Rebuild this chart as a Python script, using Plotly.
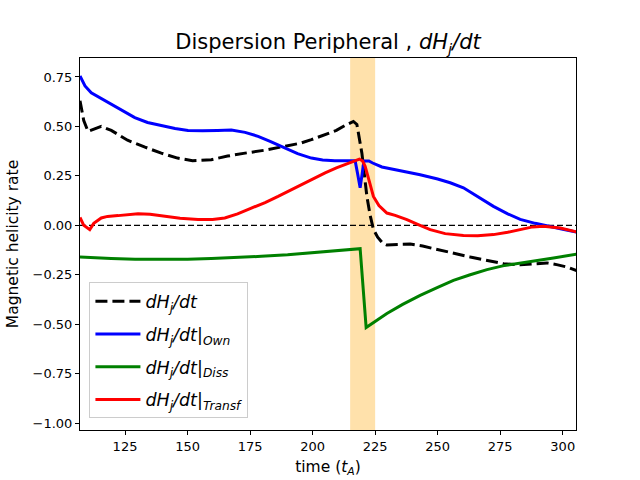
import plotly.graph_objects as go

# dH_j/dt (total)
t_total = [107, 108.5, 110.2, 113, 115.5, 119.5, 126, 133, 139.5, 146, 152, 159.5, 166, 173,
           181, 189, 195, 199.5, 205, 209.5, 213, 216.3, 217.7, 219.7, 221.7, 223, 224.3, 226,
           228, 229.7, 234, 239, 244, 249.7, 256, 263, 270, 276.3, 283, 288, 293.7, 298, 302, 305.7]
h_total = [0.63, 0.53, 0.475, 0.49, 0.5, 0.48, 0.43, 0.395, 0.365, 0.34, 0.327, 0.332, 0.35, 0.365,
           0.38, 0.4, 0.415, 0.433, 0.46, 0.48, 0.505, 0.525, 0.51, 0.365, 0.146, 0.05, -0.02, -0.06,
           -0.09, -0.1, -0.097, -0.095, -0.105, -0.123, -0.14, -0.16, -0.178, -0.194, -0.2, -0.197,
           -0.19, -0.2, -0.212, -0.23]

# dH_j/dt |Own
t_own = [107, 109, 111.5, 115, 119.5, 124, 128.9, 134, 139.5, 145, 150.2, 156, 162, 167.5, 173,
         178.2, 183, 188.9, 194, 199.5, 204, 208.9, 213, 217, 218, 219, 219.8, 220.5, 222.5, 224,
         227.7, 235, 243, 250, 255, 260.3, 266, 272.3, 278, 283, 289, 295, 300, 305.7]
h_own = [0.755, 0.705, 0.67, 0.645, 0.615, 0.58, 0.545, 0.52, 0.504, 0.49, 0.48, 0.478, 0.48, 0.482,
         0.47, 0.45, 0.425, 0.39, 0.362, 0.34, 0.33, 0.326, 0.325, 0.326, 0.26, 0.19, 0.26, 0.325,
         0.325, 0.315, 0.295, 0.278, 0.256, 0.234, 0.215, 0.19, 0.145, 0.096, 0.058, 0.03, 0.01,
         -0.008, -0.02, -0.035]

# dH_j/dt |Diss
t_diss = [107, 113, 119.5, 129, 139.5, 150, 159.5, 170, 179.5, 190, 199.5, 209.5, 219, 221.4,
          225, 229.7, 236, 243, 250, 256.3, 263, 269.7, 276, 283, 290, 296.3, 305.7]
h_diss = [-0.16, -0.165, -0.168, -0.172, -0.173, -0.171, -0.168, -0.163, -0.157, -0.149, -0.14,
          -0.13, -0.118, -0.517, -0.485, -0.446, -0.4, -0.354, -0.314, -0.278, -0.25, -0.224,
          -0.205, -0.19, -0.176, -0.165, -0.146]

# dH_j/dt |Transf
t_transf = [107, 108.5, 110.9, 112.5, 115.5, 118, 122.2, 126, 130.2, 135, 139.5, 147, 154.2, 160,
            164.9, 170, 175.5, 181, 186.2, 193, 199.5, 205, 209.5, 214, 218.7, 220, 221, 222.5,
            224.3, 226.5, 229.7, 233, 237.7, 242, 247, 253, 260.3, 266, 272.3, 278, 283, 288,
            292.3, 296, 299, 305.7]
h_transf = [0.04, 0.0, -0.022, 0.01, 0.037, 0.045, 0.049, 0.053, 0.059, 0.056, 0.049, 0.036, 0.029,
            0.029, 0.037, 0.058, 0.087, 0.115, 0.146, 0.19, 0.23, 0.265, 0.29, 0.313, 0.335, 0.325,
            0.298, 0.23, 0.146, 0.1, 0.062, 0.05, 0.029, 0.005, -0.022, -0.042, -0.052, -0.053,
            -0.047, -0.035, -0.022, -0.008, -0.005, -0.008, -0.014, -0.034]

event_start, event_end = 215, 225
y_ticks = [-1.0, -0.75, -0.5, -0.25, 0.0, 0.25, 0.5, 0.75]
x_ticks = [125, 150, 175, 200, 225, 250, 275, 300]

name_h = "<i>dH<sub>j</sub>/dt</i>"

fig = go.Figure()
fig.add_trace(go.Scatter(x=t_total, y=h_total, mode="lines", name=name_h, legendgroup="a",
                         line=dict(color="black", width=3, dash="12px,5px")))
fig.add_trace(go.Scatter(x=t_own, y=h_own, mode="lines", name=name_h + "|<sub><i>Own</i></sub>",
                         legendgroup="b", line=dict(color="#0000ff", width=3)))
fig.add_trace(go.Scatter(x=t_diss, y=h_diss, mode="lines", name=name_h + "|<sub><i>Diss</i></sub>",
                         legendgroup="c", line=dict(color="#008000", width=3)))
fig.add_trace(go.Scatter(x=t_transf, y=h_transf, mode="lines", name=name_h + "|<sub><i>Transf</i></sub>",
                         legendgroup="d", line=dict(color="#ff0000", width=3)))

# shaded event window and zero line
fig.add_vrect(x0=event_start, x1=event_end, fillcolor="rgba(255,165,0,0.33)",
              line_width=0, layer="below")
fig.add_shape(type="line", xref="paper", x0=0, x1=1, yref="y", y0=0, y1=0,
              line=dict(color="black", width=1.3, dash="6px,3px"), layer="below")

axis_style = dict(showline=True, linecolor="black", linewidth=1, mirror=True,
                  ticks="outside", ticklen=4, tickcolor="black", showgrid=False,
                  zeroline=False, automargin=False, tickfont=dict(size=13, color="black"))

fig.update_layout(
    width=640, height=480,
    template="plotly_white",
    font=dict(family="DejaVu Sans", color="black"),
    margin=dict(l=80, r=64, t=58, b=50),
    title=dict(text="Dispersion Peripheral , <i>dH<sub>j</sub>/dt</i>", x=0.5, xref="paper",
               xanchor="center", y=0.913, yanchor="middle", font=dict(size=21)),
    xaxis=dict(range=[107, 305.3], tickvals=x_ticks,
               title=dict(text="time (<i>t<sub>A</sub></i>)", font=dict(size=15.5), standoff=8),
               **axis_style),
    yaxis=dict(range=[-1.035, 0.846], tickvals=y_ticks, tickformat=".2f",
               title=dict(text="Magnetic helicity rate", font=dict(size=15.5), standoff=10),
               **axis_style),
    legend=dict(x=0.019, y=0.031, xanchor="left", yanchor="bottom",
                bgcolor="rgba(255,255,255,0.8)", bordercolor="#cccccc", borderwidth=1,
                font=dict(size=17.5), tracegroupgap=7, itemwidth=45,
                entrywidth=112, entrywidthmode="pixels"),
    plot_bgcolor="white", paper_bgcolor="white",
)

fig.write_html("out.html", config={"displayModeBar": False},
               post_script="document.body.style.margin='0';")
